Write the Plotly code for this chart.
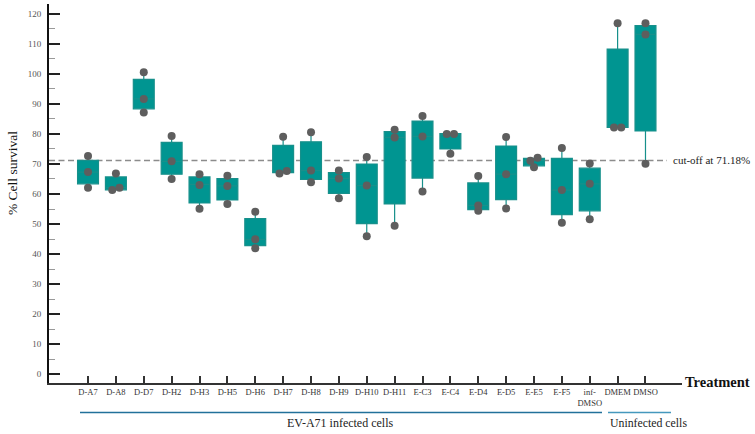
import plotly.graph_objects as go

categories = ["D-A7", "D-A8", "D-D7", "D-H2", "D-H3", "D-H5", "D-H6", "D-H7", "D-H8", "D-H9",
              "D-H10", "D-H11", "E-C3", "E-C4", "E-D4", "E-D5", "E-E5", "E-F5", "inf-<br>DMSO",
              "DMEM", "DMSO"]

q1 = [63.4, 61.4, 88.4, 66.6, 57.0, 58.0, 42.8, 67.1, 64.9, 60.2, 50.1, 56.7, 65.3, 75.0,
      54.8, 58.1, 69.4, 53.1, 54.4, 82.2, 81.0]
median = [67.3, 62.1, 91.7, 70.9, 63.2, 62.7, 44.9, 67.7, 67.8, 65.2, 62.8, 78.9, 79.2, 80.0,
          56.2, 66.6, 71.1, 61.3, 63.4, 82.2, 113.2]
q3 = [71.2, 65.7, 98.2, 77.2, 65.7, 65.1, 51.8, 76.2, 77.4, 67.1, 70.0, 80.8, 84.3, 80.1,
      63.7, 76.0, 71.9, 71.9, 68.6, 108.3, 116.1]

rep1 = [72.7, 66.8, 100.6, 79.3, 66.6, 66.1, 54.1, 79.1, 80.6, 67.8, 72.3, 81.4, 86.0, 80.0,
        66.0, 79.0, 72.1, 75.3, 70.2, 116.9, 116.9]
rep2 = [67.3, 62.1, 91.7, 70.9, 63.0, 62.7, 44.9, 67.7, 67.8, 65.2, 62.8, 78.8, 79.2, 80.0,
        56.2, 66.6, 71.1, 61.3, 63.4, 82.2, 113.2]
rep3 = [62.1, 61.3, 87.2, 65.0, 55.1, 56.7, 41.9, 66.8, 63.9, 58.6, 45.9, 49.4, 60.8, 73.4,
        54.4, 55.2, 68.9, 50.4, 51.6, 82.2, 70.1]

cutoff = 71.18
y_ticks = list(range(0, 121, 10))

n = len(categories)
xs = list(range(n))
reps = [rep1, rep2, rep3]
lowerfence = [min(min(r[i] for r in reps), q1[i]) for i in range(n)]
upperfence = [max(max(r[i] for r in reps), q3[i]) for i in range(n)]

# horizontal spread for near-coincident replicate points
px_, py_ = [], []
for i in range(n):
    vals = sorted(r[i] for r in reps)
    offs = [0.0] * len(vals)
    j = 0
    while j < len(vals) - 1:
        if abs(vals[j + 1] - vals[j]) < 1.5:
            offs[j], offs[j + 1] = -0.13, 0.13
            j += 2
        else:
            j += 1
    for v, o in zip(vals, offs):
        px_.append(i + o)
        py_.append(v)

W, H = 755, 434
ML, MR, MT, MB = 49, 73, 4, 51
PW, PH = W - ML - MR, H - MT - MB
def fx(p):
    return (p - ML) / PW
def fy(p):
    return (H - MB - p) / PH

SERIF = "Liberation Serif, DejaVu Serif, serif"

fig = go.Figure()
fig.add_trace(go.Box(
    x=xs, q1=q1, median=median, q3=q3, lowerfence=lowerfence, upperfence=upperfence,
    fillcolor="#009591", line=dict(color="#17908b", width=1.2), width=0.75,
    whiskerwidth=0, boxpoints=False, showlegend=False,
))
fig.add_trace(go.Scatter(
    x=px_, y=py_, mode="markers",
    marker=dict(color="#5e5e5e", size=8, line=dict(width=0)),
    showlegend=False,
))

fig.add_shape(type="line", xref="paper", yref="y", x0=0, x1=fx(667), y0=cutoff, y1=cutoff,
              line=dict(color="#8c8c8c", width=1.4, dash="6px,3.5px"), layer="below")
fig.add_shape(type="line", xref="paper", yref="paper", x0=fx(80), x1=fx(602),
              y0=fy(412.5), y1=fy(412.5), line=dict(color="#22719a", width=1.5))
fig.add_shape(type="line", xref="paper", yref="paper", x0=fx(608), x1=fx(671),
              y0=fy(412.5), y1=fy(412.5), line=dict(color="#4598bd", width=1.5))

fig.add_annotation(text="cut-off at %.2f%%" % cutoff, xref="paper", yref="y", x=fx(671),
                   y=cutoff, xanchor="left", yanchor="middle", showarrow=False,
                   font=dict(family=SERIF, size=11, color="#222"))
fig.add_annotation(text="<b>Treatment</b>", xref="paper", yref="paper", x=fx(683),
                   y=fy(382), xanchor="left", yanchor="middle", showarrow=False,
                   font=dict(family=SERIF, size=14.5, color="#111"))
fig.add_annotation(text="% Cell survival", xref="paper", yref="paper", x=fx(13),
                   y=fy(173), xanchor="center", yanchor="middle", textangle=-90,
                   showarrow=False, font=dict(family=SERIF, size=13.5, color="#111"))
fig.add_annotation(text="EV-A71 infected cells", xref="paper", yref="paper", x=fx(340),
                   y=fy(422.5), xanchor="center", yanchor="middle", showarrow=False,
                   font=dict(family=SERIF, size=12, color="#222"))
fig.add_annotation(text="Uninfected cells", xref="paper", yref="paper", x=fx(608),
                   y=fy(422.5), xanchor="left", yanchor="middle", showarrow=False,
                   font=dict(family=SERIF, size=11.8, color="#222"))

fig.update_layout(
    width=W, height=H, margin=dict(l=ML, r=MR, t=MT, b=MB),
    paper_bgcolor="white", plot_bgcolor="white",
    font=dict(family=SERIF),
    xaxis=dict(range=[-1.4, 21.31], tickmode="array", tickvals=xs, ticktext=categories,
               showgrid=False, zeroline=False, showline=True, linecolor="#333", linewidth=2,
               ticks="inside", ticklen=7, tickwidth=1.5, tickcolor="#333",
               tickfont=dict(family=SERIF, size=8.5, color="#333"), tickangle=0),
    yaxis=dict(range=[-3, 123.33], tickmode="array", tickvals=y_ticks,
               showgrid=False, zeroline=False, showline=True, linecolor="#111", linewidth=2,
               ticks="inside", ticklen=11, tickwidth=2, tickcolor="#222",
               tickfont=dict(family=SERIF, size=9, color="#555"), ticklabelstandoff=4,
               minor=dict(ticks="inside", ticklen=6, tickwidth=1, tickcolor="#999",
                          tickmode="linear", tick0=0, dtick=5)),
)

fig.write_html("out.html", config={"displayModeBar": False},
               post_script="document.body.style.margin='0px';")
